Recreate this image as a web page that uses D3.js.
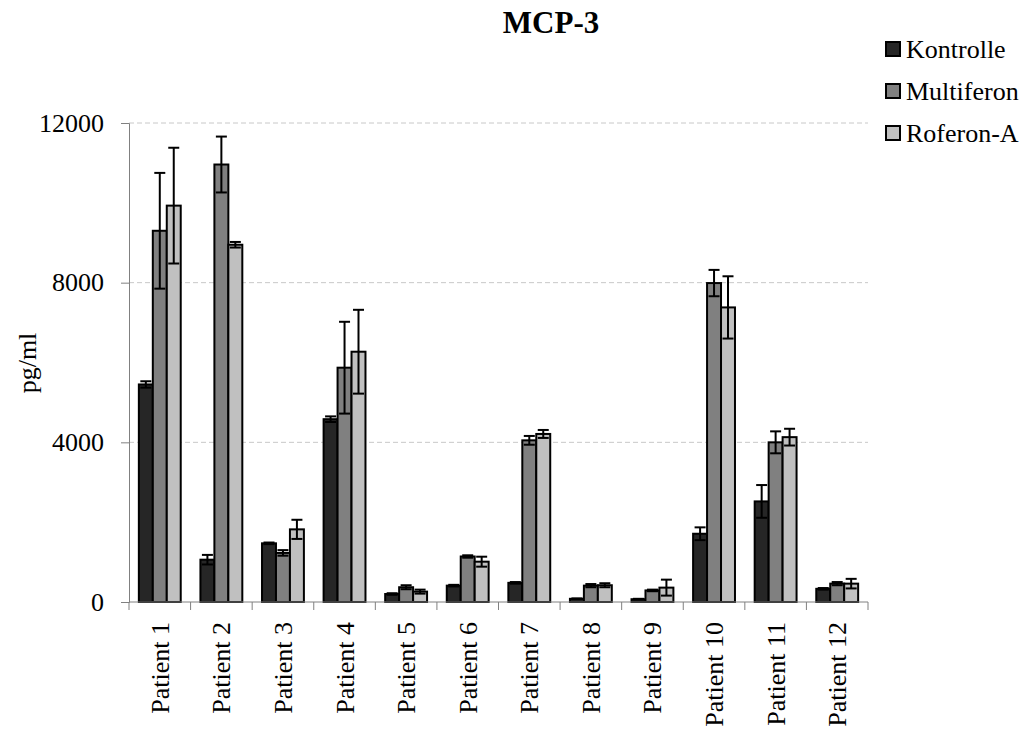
<!DOCTYPE html>
<html>
<head>
<meta charset="utf-8">
<script src="https://cdn.jsdelivr.net/npm/d3@7"></script>
<style>
  body{ margin:0; background:#fff; }
</style>
</head>
<body>
<svg id="chart" width="1027" height="731"></svg>
<script>
// Datos (pg/ml)
const patients = ["Patient 1","Patient 2","Patient 3","Patient 4","Patient 5","Patient 6",
                  "Patient 7","Patient 8","Patient 9","Patient 10","Patient 11","Patient 12"];
const seriesNames = ["Kontrolle","Multiferon","Roferon-A"];
const seriesColors = ["#262626","#808080","#c0c0c0"];

const kontrolle    = [5450, 1060, 1470, 4580, 200, 410, 480,  80,  70, 1710, 2520, 330];
const kontrolleErr = [  80,  120,   20,   70,  20,  20,  20,  10,  10,  160,  410,  20];
const multiferon    = [9300, 10960, 1230, 5870, 370, 1140, 4050, 410, 290, 7990, 4000, 460];
const multiferonErr = [1450,   700,   70, 1150,  50,   30,  110,  40,  20,  330,  275,  40];
const roferon    = [9930, 8950, 1820, 6270, 260, 1010, 4210, 420, 360, 7380, 4130, 460];
const roferonErr = [1450,   70,  240, 1050,  50,  125,  100,  50, 200,  780,  210, 120];

const yTicks = [0, 4000, 8000, 12000];

const values = [kontrolle, multiferon, roferon];
const errors = [kontrolleErr, multiferonErr, roferonErr];

const FONT = "'Liberation Serif', 'Times New Roman', Times, serif";

const svg = d3.select("#chart");
const plotL = 129, plotR = 868, plotT = 123, plotB = 602;

const y = d3.scaleLinear().domain([0, 12000]).range([plotB, plotT]);
const x0 = d3.scaleBand().domain(patients).range([plotL, plotR]).padding(0);
const x1 = d3.scaleBand().domain(seriesNames)
  .range([x0.bandwidth()*0.16, x0.bandwidth()*0.84]).padding(0);

// líneas de cuadrícula discontinuas
svg.append("g")
  .selectAll("line")
  .data(yTicks.filter(t => t > 0))
  .enter().append("line")
  .attr("x1", plotL).attr("x2", plotR)
  .attr("y1", d => y(d)).attr("y2", d => y(d))
  .attr("stroke", "#c8c8c8").attr("stroke-width", 1)
  .attr("stroke-dasharray", "5,3");

// barras
const groups = svg.append("g")
  .selectAll("g")
  .data(patients)
  .enter().append("g")
  .attr("transform", d => "translate(" + x0(d) + ",0)");

const rows = (d, i) => seriesNames.map((s, k) => ({ s, k, v: values[k][i], e: errors[k][i] }));

groups.selectAll("rect")
  .data(rows)
  .enter().append("rect")
  .attr("x", d => x1(d.s))
  .attr("y", d => y(d.v))
  .attr("width", x1.bandwidth())
  .attr("height", d => y(0) - y(d.v))
  .attr("fill", d => seriesColors[d.k])
  .attr("stroke", "#000").attr("stroke-width", 2);

// barras de error
const capW = 11;
const eb = groups.selectAll("g.err")
  .data(rows)
  .enter().append("g").attr("class","err")
  .attr("stroke", "#000").attr("stroke-width", 2);

const cx = d => x1(d.s) + x1.bandwidth()/2;
eb.append("line")
  .attr("x1", cx).attr("x2", cx)
  .attr("y1", d => y(d.v + d.e))
  .attr("y2", d => y(Math.max(0, d.v - d.e)));
eb.append("line")
  .attr("x1", d => cx(d) - capW/2).attr("x2", d => cx(d) + capW/2)
  .attr("y1", d => y(d.v + d.e)).attr("y2", d => y(d.v + d.e));
eb.append("line")
  .attr("x1", d => cx(d) - capW/2).attr("x2", d => cx(d) + capW/2)
  .attr("y1", d => y(Math.max(0, d.v - d.e))).attr("y2", d => y(Math.max(0, d.v - d.e)));

// eje Y
const yAxis = svg.append("g")
  .attr("transform", "translate(" + plotL + ",0)")
  .call(d3.axisLeft(y).tickValues(yTicks).tickSize(8).tickPadding(17).tickFormat(d3.format("d")));
yAxis.attr("font-family", null).attr("font-size", null);
yAxis.select(".domain").attr("stroke", "#808080");
yAxis.selectAll(".tick line").attr("stroke", "#808080");
yAxis.selectAll("text")
  .style("font-family", FONT).style("font-size", "26px").attr("fill", "#000");

// eje X: marcas entre categorías
svg.append("line")
  .attr("x1", plotL).attr("x2", plotR)
  .attr("y1", plotB).attr("y2", plotB)
  .attr("stroke", "#808080");
svg.append("g")
  .selectAll("line")
  .data(patients.concat(["__end"]))
  .enter().append("line")
  .attr("x1", d => d === "__end" ? plotR : x0(d))
  .attr("x2", d => d === "__end" ? plotR : x0(d))
  .attr("y1", plotB).attr("y2", plotB + 8)
  .attr("stroke", "#808080");

svg.append("g")
  .selectAll("text")
  .data(patients)
  .enter().append("text")
  .attr("transform", d => "translate(" + (x0(d) + x0.bandwidth()/2 + 9) + "," + (plotB + 20) + ") rotate(-90)")
  .attr("text-anchor", "end")
  .style("font-family", FONT).style("font-size", "26px")
  .text(d => d);

// título y etiqueta del eje
svg.append("text")
  .attr("x", 551).attr("y", 33)
  .attr("text-anchor", "middle")
  .style("font-family", FONT).style("font-size", "31px").style("font-weight", "bold")
  .text("MCP-3");

svg.append("text")
  .attr("transform", "translate(36,363) rotate(-90)")
  .attr("text-anchor", "middle")
  .style("font-family", FONT).style("font-size", "26px")
  .text("pg/ml");

// leyenda
const legend = svg.append("g")
  .selectAll("g")
  .data(seriesNames)
  .enter().append("g")
  .attr("transform", (d, i) => "translate(886," + (49 + i*42) + ")");
legend.append("rect")
  .attr("x", 0).attr("y", -7).attr("width", 14).attr("height", 14)
  .attr("fill", (d, i) => seriesColors[i])
  .attr("stroke", "#000").attr("stroke-width", 2);
legend.append("text")
  .attr("x", 20).attr("y", 9)
  .style("font-family", FONT).style("font-size", "26px")
  .text(d => d);
</script>
</body>
</html>
